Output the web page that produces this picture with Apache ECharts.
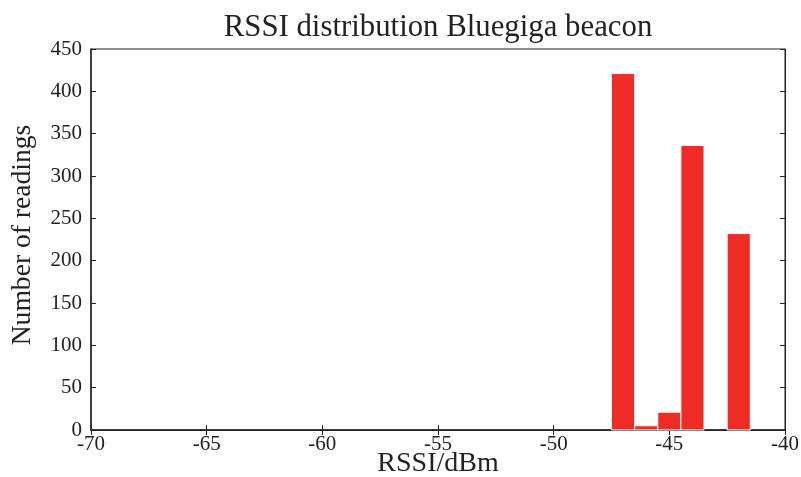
<!DOCTYPE html>
<html>
<head>
<meta charset="utf-8">
<script src="https://cdn.jsdelivr.net/npm/echarts@6/dist/echarts.min.js"></script>
<style>
  html, body { margin: 0; padding: 0; background: #fff; }
  #chart { width: 801px; height: 477px; }
</style>
</head>
<body>
<div id="chart"></div>
<script>
// RSSI histogram bins (dBm) and counts per bin
const rssiBins = [-47, -46, -45, -44, -42];
const readingCounts = [421, 5, 21, 336, 232];
const xTicks = [-70, -65, -60, -55, -50, -45, -40];
const yTicks = [0, 50, 100, 150, 200, 250, 300, 350, 400, 450];

const FONT = '"Liberation Serif", "DejaVu Serif", serif';
const INK = '#222222';
const BAR_RED = '#ee2b24';

const chart = echarts.init(document.getElementById('chart'), null, { renderer: 'canvas' });

const tickStyle = { show: true, inside: true, length: 5, lineStyle: { color: INK, width: 1 } };

chart.setOption({
  animation: false,
  backgroundColor: '#ffffff',
  title: {
    text: 'RSSI distribution Bluegiga beacon',
    left: 433,
    textAlign: 'center',
    top: 7,
    textStyle: { fontFamily: FONT, fontSize: 30.8, fontWeight: 'normal', color: INK }
  },
  grid: {
    left: 91, right: 16, top: 49, bottom: 47,
    containLabel: false, outerBoundsMode: 'none',
    show: true, borderColor: INK, borderWidth: 1, backgroundColor: '#ffffff'
  },
  xAxis: [{
    type: 'value',
    min: xTicks[0], max: xTicks[xTicks.length - 1], interval: 5,
    name: 'RSSI/dBm', nameLocation: 'middle', nameGap: 20, nameMoveOverlap: false,
    nameTextStyle: { fontFamily: FONT, fontSize: 28, color: INK },
    axisLine: { show: true, onZero: false, lineStyle: { color: INK, width: 1.5 } },
    axisTick: tickStyle,
    axisLabel: { fontFamily: FONT, fontSize: 21, color: INK, margin: 4 },
    splitLine: { show: false }
  }, {
    type: 'value', position: 'top',
    min: xTicks[0], max: xTicks[xTicks.length - 1], interval: 5,
    axisLine: { show: true, lineStyle: { color: INK, width: 1 } },
    axisTick: tickStyle, axisLabel: { show: false }, splitLine: { show: false }
  }],
  yAxis: [{
    type: 'value',
    min: yTicks[0], max: yTicks[yTicks.length - 1], interval: 50,
    name: 'Number of readings', nameLocation: 'middle', nameGap: 54, nameMoveOverlap: false,
    nameTextStyle: { fontFamily: FONT, fontSize: 27.6, color: INK, padding: [0, 0, 0, 9] },
    axisLine: { show: true, onZero: false, lineStyle: { color: INK, width: 1.5 } },
    axisTick: tickStyle,
    axisLabel: { fontFamily: FONT, fontSize: 21, color: INK, margin: 9 },
    splitLine: { show: false }
  }, {
    type: 'value', position: 'right',
    min: yTicks[0], max: yTicks[yTicks.length - 1], interval: 50,
    axisLine: { show: true, lineStyle: { color: INK, width: 1 } },
    axisTick: tickStyle, axisLabel: { show: false }, splitLine: { show: false }
  }],
  series: [{
    type: 'custom',
    xAxisIndex: 0, yAxisIndex: 0,
    data: rssiBins.map((b, i) => [b, readingCounts[i]]),
    renderItem: function (params, api) {
      const x = api.value(0);
      const y = api.value(1);
      const p0 = api.coord([x - 0.5, y]);
      const p1 = api.coord([x + 0.5, 0]);
      return {
        type: 'rect',
        shape: { x: p0[0], y: p0[1], width: p1[0] - p0[0], height: p1[1] - p0[1] },
        style: { fill: BAR_RED, stroke: '#ffffff', lineWidth: 1 }
      };
    }
  }]
});
</script>
</body>
</html>
